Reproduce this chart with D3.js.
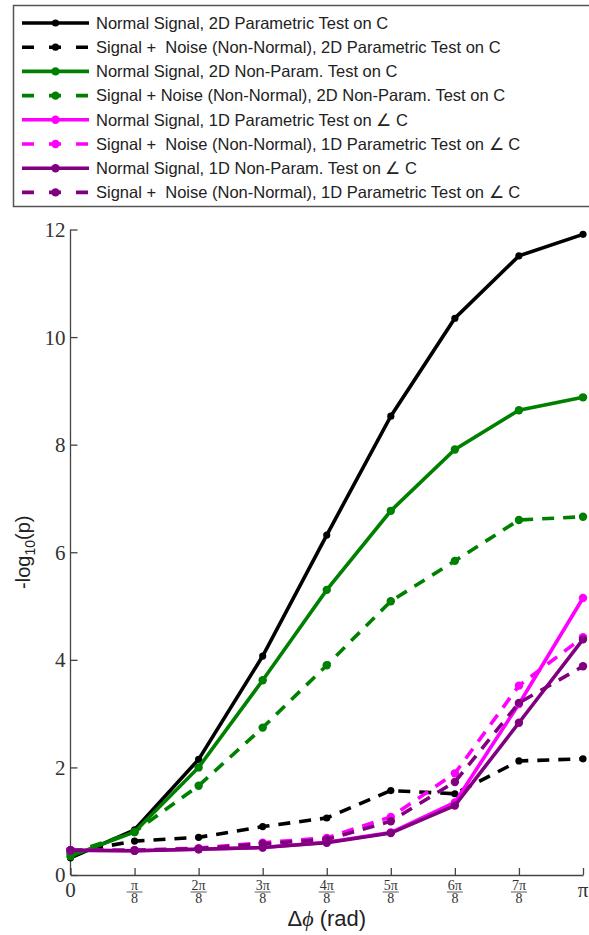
<!DOCTYPE html>
<html><head><meta charset="utf-8">
<script src="https://cdn.jsdelivr.net/npm/d3@7"></script>
<style>
html,body{margin:0;padding:0;background:#fff;}
svg{display:block;}
</style></head>
<body>
<svg id="chart" width="589" height="935"></svg>
<script>
// ---- data ----
const xIndex = [0,1,2,3,4,5,6,7,8]; // multiples of pi/8
const xTickNum = ["0","π","2π","3π","4π","5π","6π","7π","π"];
const xTickDen = ["","8","8","8","8","8","8","8",""];
const yTicks = [0,2,4,6,8,10,12];

const seriesNames = [
  "Normal Signal, 2D Parametric Test on C",
  "Signal +  Noise (Non-Normal), 2D Parametric Test on C",
  "Normal Signal, 2D Non-Param. Test on C",
  "Signal + Noise (Non-Normal), 2D Non-Param. Test on C",
  "Normal Signal, 1D Parametric Test on \u2220 C",
  "Signal +  Noise (Non-Normal), 1D Parametric Test on \u2220 C",
  "Normal Signal, 1D Non-Param. Test on \u2220 C",
  "Signal +  Noise (Non-Normal), 1D Parametric Test on \u2220 C"
];
const normal2DParam   = [0.32,0.84,2.15,4.07,6.32,8.53,10.35,11.51,11.91];
const noise2DParam    = [0.42,0.63,0.70,0.90,1.06,1.57,1.51,2.12,2.16];
const normal2DNonPar  = [0.35,0.80,2.00,3.62,5.30,6.77,7.91,8.64,8.88];
const noise2DNonPar   = [0.40,0.80,1.66,2.74,3.90,5.09,5.84,6.60,6.66];
const normal1DParam   = [0.46,0.45,0.48,0.51,0.61,0.79,1.35,3.18,5.15];
const noise1DParam    = [0.46,0.46,0.50,0.60,0.69,1.08,1.89,3.52,4.42];
const normal1DNonPar  = [0.46,0.45,0.48,0.51,0.60,0.78,1.29,2.83,4.38];
const noise1DParamB   = [0.46,0.46,0.49,0.58,0.66,1.00,1.73,3.20,3.88];

const seriesColors = ["#000000","#000000","#008000","#008000","#ff00ff","#ff00ff","#800080","#800080"];
const seriesDashed = [false,true,false,true,false,true,false,true];
const seriesValues = [normal2DParam,noise2DParam,normal2DNonPar,noise2DNonPar,normal1DParam,noise1DParam,normal1DNonPar,noise1DParamB];

// ---- layout ----
const svg = d3.select("#chart");
const pLeft = 70.5, pRight = 583, pTop = 229.5, pBottom = 875;
const x = d3.scaleLinear().domain([0, Math.PI]).range([pLeft, pRight]);
const y = d3.scaleLinear().domain([0, 12]).range([pBottom, pTop]);
const axisColor = "#444";
const serif = "'Liberation Serif','Times New Roman',serif";
const sans = "'Liberation Sans',Arial,Helvetica,sans-serif";

// y axis
const gy = svg.append("g").attr("transform",`translate(${pLeft},0)`)
  .call(d3.axisLeft(y).tickValues(yTicks).tickSizeInner(-7).tickSizeOuter(0).tickPadding(5));
gy.selectAll("path,line").attr("stroke",axisColor).attr("stroke-width",1.3);
gy.selectAll("text").attr("font-family",serif)
  .attr("font-size",21).attr("fill","#333").attr("dy","0.33em");
gy.select(".domain").attr("d",`M0,${pBottom}V${pTop}`);

// x axis
const xTickVals = xIndex.map(k => k*Math.PI/8);
const gx = svg.append("g").attr("transform",`translate(0,${pBottom})`)
  .call(d3.axisBottom(x).tickValues(xTickVals).tickSizeInner(-7).tickSizeOuter(0).tickFormat(""));
gx.selectAll("path,line").attr("stroke",axisColor).attr("stroke-width",1.3);

// x tick labels
xIndex.forEach((k,i) => {
  const cx = x(xTickVals[i]);
  if (xTickDen[i] === "") {
    svg.append("text").attr("x",cx).attr("y",pBottom+22).attr("text-anchor","middle")
      .attr("font-family",serif).attr("font-size",21).attr("fill","#333").text(xTickNum[i]);
  } else {
    const t = svg.append("text").attr("text-anchor","middle")
      .attr("font-family",serif).attr("font-size",14).attr("fill","#333");
    t.append("tspan").attr("x",cx).attr("y",pBottom+14.5).text(xTickNum[i]);
    t.append("tspan").attr("x",cx).attr("y",pBottom+28).text(xTickDen[i]);
    svg.append("line").attr("x1",cx-8).attr("x2",cx+8).attr("y1",pBottom+17).attr("y2",pBottom+17)
      .attr("stroke","#333").attr("stroke-width",0.8);
  }
});

// axis labels
const xl = svg.append("text").attr("x",(pLeft+pRight)/2).attr("y",926).attr("text-anchor","middle")
  .attr("font-family",sans).attr("font-size",22).attr("fill","#222");
xl.append("tspan").text("\u0394");
xl.append("tspan").attr("font-family",serif).attr("font-style","italic").text("\u03d5");
xl.append("tspan").text(" (rad)");

const yl = svg.append("text").attr("transform",`translate(30,${(pTop+pBottom)/2}) rotate(-90)`)
  .attr("text-anchor","middle").attr("font-family",sans).attr("font-size",20).attr("fill","#222");
yl.append("tspan").text("-log");
yl.append("tspan").attr("font-size",14).attr("dy",5).text("10");
yl.append("tspan").attr("dy",-5).text("(p)");

// lines
const line = d3.line().x((d,i) => x(xTickVals[i])).y(d => y(d));
seriesValues.forEach((vals,s) => {
  const g = svg.append("g");
  g.append("path").datum(vals).attr("d",line).attr("fill","none")
    .attr("stroke",seriesColors[s]).attr("stroke-width",3.6)
    .attr("stroke-dasharray",seriesDashed[s] ? "12,9" : null);
  g.selectAll("circle").data(vals).join("circle")
    .attr("cx",(d,i) => x(xTickVals[i])).attr("cy",d => y(d))
    .attr("r", s < 2 ? 3.6 : 4.2).attr("fill",seriesColors[s]);
});

// legend
svg.append("rect").attr("x",13.5).attr("y",5.5).attr("width",600).attr("height",201)
  .attr("fill","#fff").attr("stroke","#555").attr("stroke-width",1.5);
seriesNames.forEach((name,s) => {
  const ly = 23 + s*24.2;
  svg.append("line").attr("x1",22).attr("x2",89).attr("y1",ly).attr("y2",ly)
    .attr("stroke",seriesColors[s]).attr("stroke-width",3.6)
    .attr("stroke-dasharray",seriesDashed[s] ? "12,15" : null);
  svg.append("circle").attr("cx",55.5).attr("cy",ly).attr("r",s<2?3.6:4.2).attr("fill",seriesColors[s]);
  svg.append("text").attr("x",96).attr("y",ly).attr("dy","0.35em")
    .attr("font-family",sans).attr("font-size",16.5).attr("fill","#222")
    .style("white-space","pre").text(name);
});
</script>
</body></html>
